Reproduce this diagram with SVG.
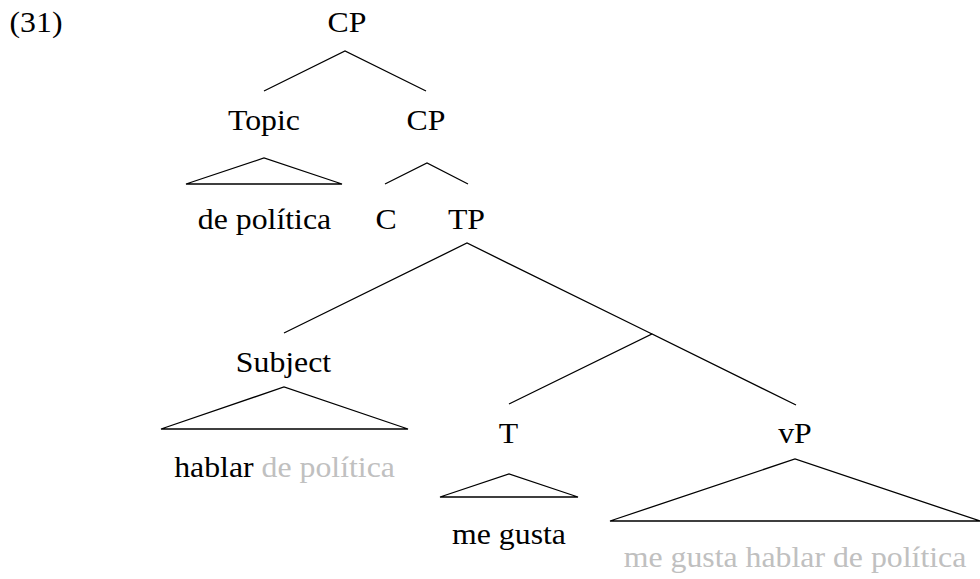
<svg xmlns="http://www.w3.org/2000/svg" width="980" height="579" viewBox="0 0 980 579">
<rect width="980" height="579" fill="#fff"/>
<g font-family="Liberation Serif, Times New Roman, serif" font-size="30" fill="#000" text-anchor="middle">
<text font-family="Liberation Serif, Times New Roman, serif" transform="translate(36,32) scale(1.06,1)">(31)</text>
</g>
<g id="connectors" stroke="#000" stroke-width="1.3" fill="none">
<path d="M264,91 L345,51 L426,91"/>
<path d="M186,184 L264,158 L342,184 Z"/>
<path d="M385,184 L427,163 L468,184"/>
<path d="M284,333 L467,243 L652,334"/>
<path d="M509,404 L652,334 L796,405"/>
<path d="M161,429 L284,387 L408,429 Z"/>
<path d="M440,497 L509,474 L578,497 Z"/>
<path d="M610,521 L795,459 L980,521 Z"/>
</g>
<g font-family="Liberation Serif, Times New Roman, serif" font-size="30" fill="#000" text-anchor="middle">
<g id="n-cp"><text font-family="Liberation Serif, Times New Roman, serif" transform="translate(347,32) scale(1.06,1)">CP</text></g>
<g id="n-topic"><text font-family="Liberation Serif, Times New Roman, serif" transform="translate(264,130) scale(1.06,1)">Topic</text></g>
<g id="n-topic-leaf"><text font-family="Liberation Serif, Times New Roman, serif" transform="translate(264.5,229) scale(1.06,1)">de política</text></g>
<g id="n-cp2"><text font-family="Liberation Serif, Times New Roman, serif" transform="translate(426,130) scale(1.06,1)">CP</text></g>
<g id="n-c"><text font-family="Liberation Serif, Times New Roman, serif" transform="translate(386,229) scale(1.06,1)">C</text></g>
<g id="n-tp"><text font-family="Liberation Serif, Times New Roman, serif" transform="translate(466.5,229) scale(1.06,1)">TP</text></g>
<g id="n-subject"><text font-family="Liberation Serif, Times New Roman, serif" transform="translate(283.5,372) scale(1.06,1)">Subject</text></g>
<g id="n-subject-leaf"><text font-family="Liberation Serif, Times New Roman, serif" transform="translate(284.5,477) scale(1.06,1)">hablar <tspan fill="#c0c0c0">de política</tspan></text></g>
<g id="n-t"><text font-family="Liberation Serif, Times New Roman, serif" transform="translate(508.5,443) scale(1.06,1)">T</text></g>
<g id="n-t-leaf"><text font-family="Liberation Serif, Times New Roman, serif" transform="translate(509,544) scale(1.06,1)">me gusta</text></g>
<g id="n-vp"><text font-family="Liberation Serif, Times New Roman, serif" transform="translate(795,443) scale(1.06,1)">vP</text></g>
<g id="n-vp-leaf"><text font-family="Liberation Serif, Times New Roman, serif" fill="#c0c0c0" transform="translate(795,567) scale(1.06,1)">me gusta hablar de política</text></g>
</g>
</svg>
